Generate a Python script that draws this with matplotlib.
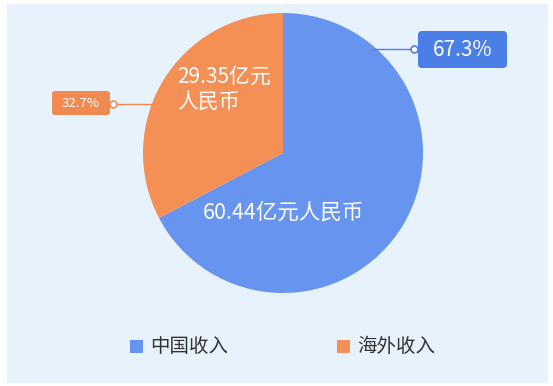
import matplotlib
matplotlib.use('Agg')
import matplotlib.pyplot as plt
from matplotlib.patches import Rectangle, FancyBboxPatch

plt.rcParams['font.family'] = ['Noto Sans CJK SC', 'DejaVu Sans']

categories = ['中国收入', '海外收入']
values = [60.44, 29.35]
value_labels = ['60.44亿元人民币', '29.35亿元\n人民币']
colors = ['#6694ee', '#f48f55']
box_colors = ['#4a80e6', '#f08a50']

W, H = 553, 386
fig = plt.figure(figsize=(W / 100, H / 100), dpi=100)
fig.patch.set_facecolor('white')
ax = fig.add_axes([0, 0, 1, 1])

def Y(y):
    return H - y

# panel background
ax.add_patch(Rectangle((7, Y(383)), 541, 379, facecolor='#e8f2fd', edgecolor='none', zorder=0))

cx, cy, r = 283, 153, 140
total = sum(values)
pcts = [v / total * 100 for v in values]

ax.pie(values, colors=colors, startangle=90, counterclock=False,
       center=(cx, Y(cy)), radius=r, frame=True,
       wedgeprops=dict(linewidth=0, zorder=2))

# inside labels
ax.text(283, Y(213), value_labels[0], color='white', fontsize=15.5,
        ha='center', va='center', zorder=5)
ax.text(177, Y(89), value_labels[1], color='white', fontsize=15,
        ha='left', va='center', linespacing=1.2, zorder=5)

# percentage callouts
# blue
ly = 49
lx0 = cx + (r ** 2 - (cy - ly) ** 2) ** 0.5 - 4
ax.plot([lx0, 414], [Y(ly), Y(ly)], color=box_colors[0], lw=1, zorder=3)
ax.plot([414], [Y(ly)], marker='o', ms=5, mfc='white', mec=box_colors[0], mew=1.2, zorder=4)
ax.add_patch(FancyBboxPatch((418, Y(68)), 89, 37, boxstyle='round,pad=0,rounding_size=4',
                            facecolor=box_colors[0], edgecolor='none', zorder=4))
ax.text(462.5, Y(49.5), f'{pcts[0]:.1f}%', color='white', fontsize=15,
        ha='center', va='center', zorder=5)

# orange
ly2 = 104
lx1 = cx - (r ** 2 - (cy - ly2) ** 2) ** 0.5 + 4
ax.plot([113, lx1], [Y(ly2), Y(ly2)], color=box_colors[1], lw=1, zorder=3)
ax.plot([113], [Y(ly2)], marker='o', ms=5, mfc='white', mec=box_colors[1], mew=1.2, zorder=4)
ax.add_patch(FancyBboxPatch((52, Y(115)), 58, 24, boxstyle='round,pad=0,rounding_size=3',
                            facecolor=box_colors[1], edgecolor='none', zorder=4))
ax.text(81, Y(103.5), f'{pcts[1]:.1f}%', color='white', fontsize=9.5,
        ha='center', va='center', zorder=5)

# legend
leg_x = [130, 337]
for x, c, name in zip(leg_x, colors, categories):
    ax.add_patch(Rectangle((x, Y(353)), 13, 13, facecolor=c, edgecolor='none', zorder=4))
    ax.text(x + 20, Y(346.5), name, color='#333333', fontsize=14,
            ha='left', va='center', zorder=5)

ax.set_xlim(0, W)
ax.set_ylim(0, H)
ax.set_aspect('equal', adjustable='box')
ax.axis('off')

fig.savefig('out.png', dpi=100, facecolor='white')
